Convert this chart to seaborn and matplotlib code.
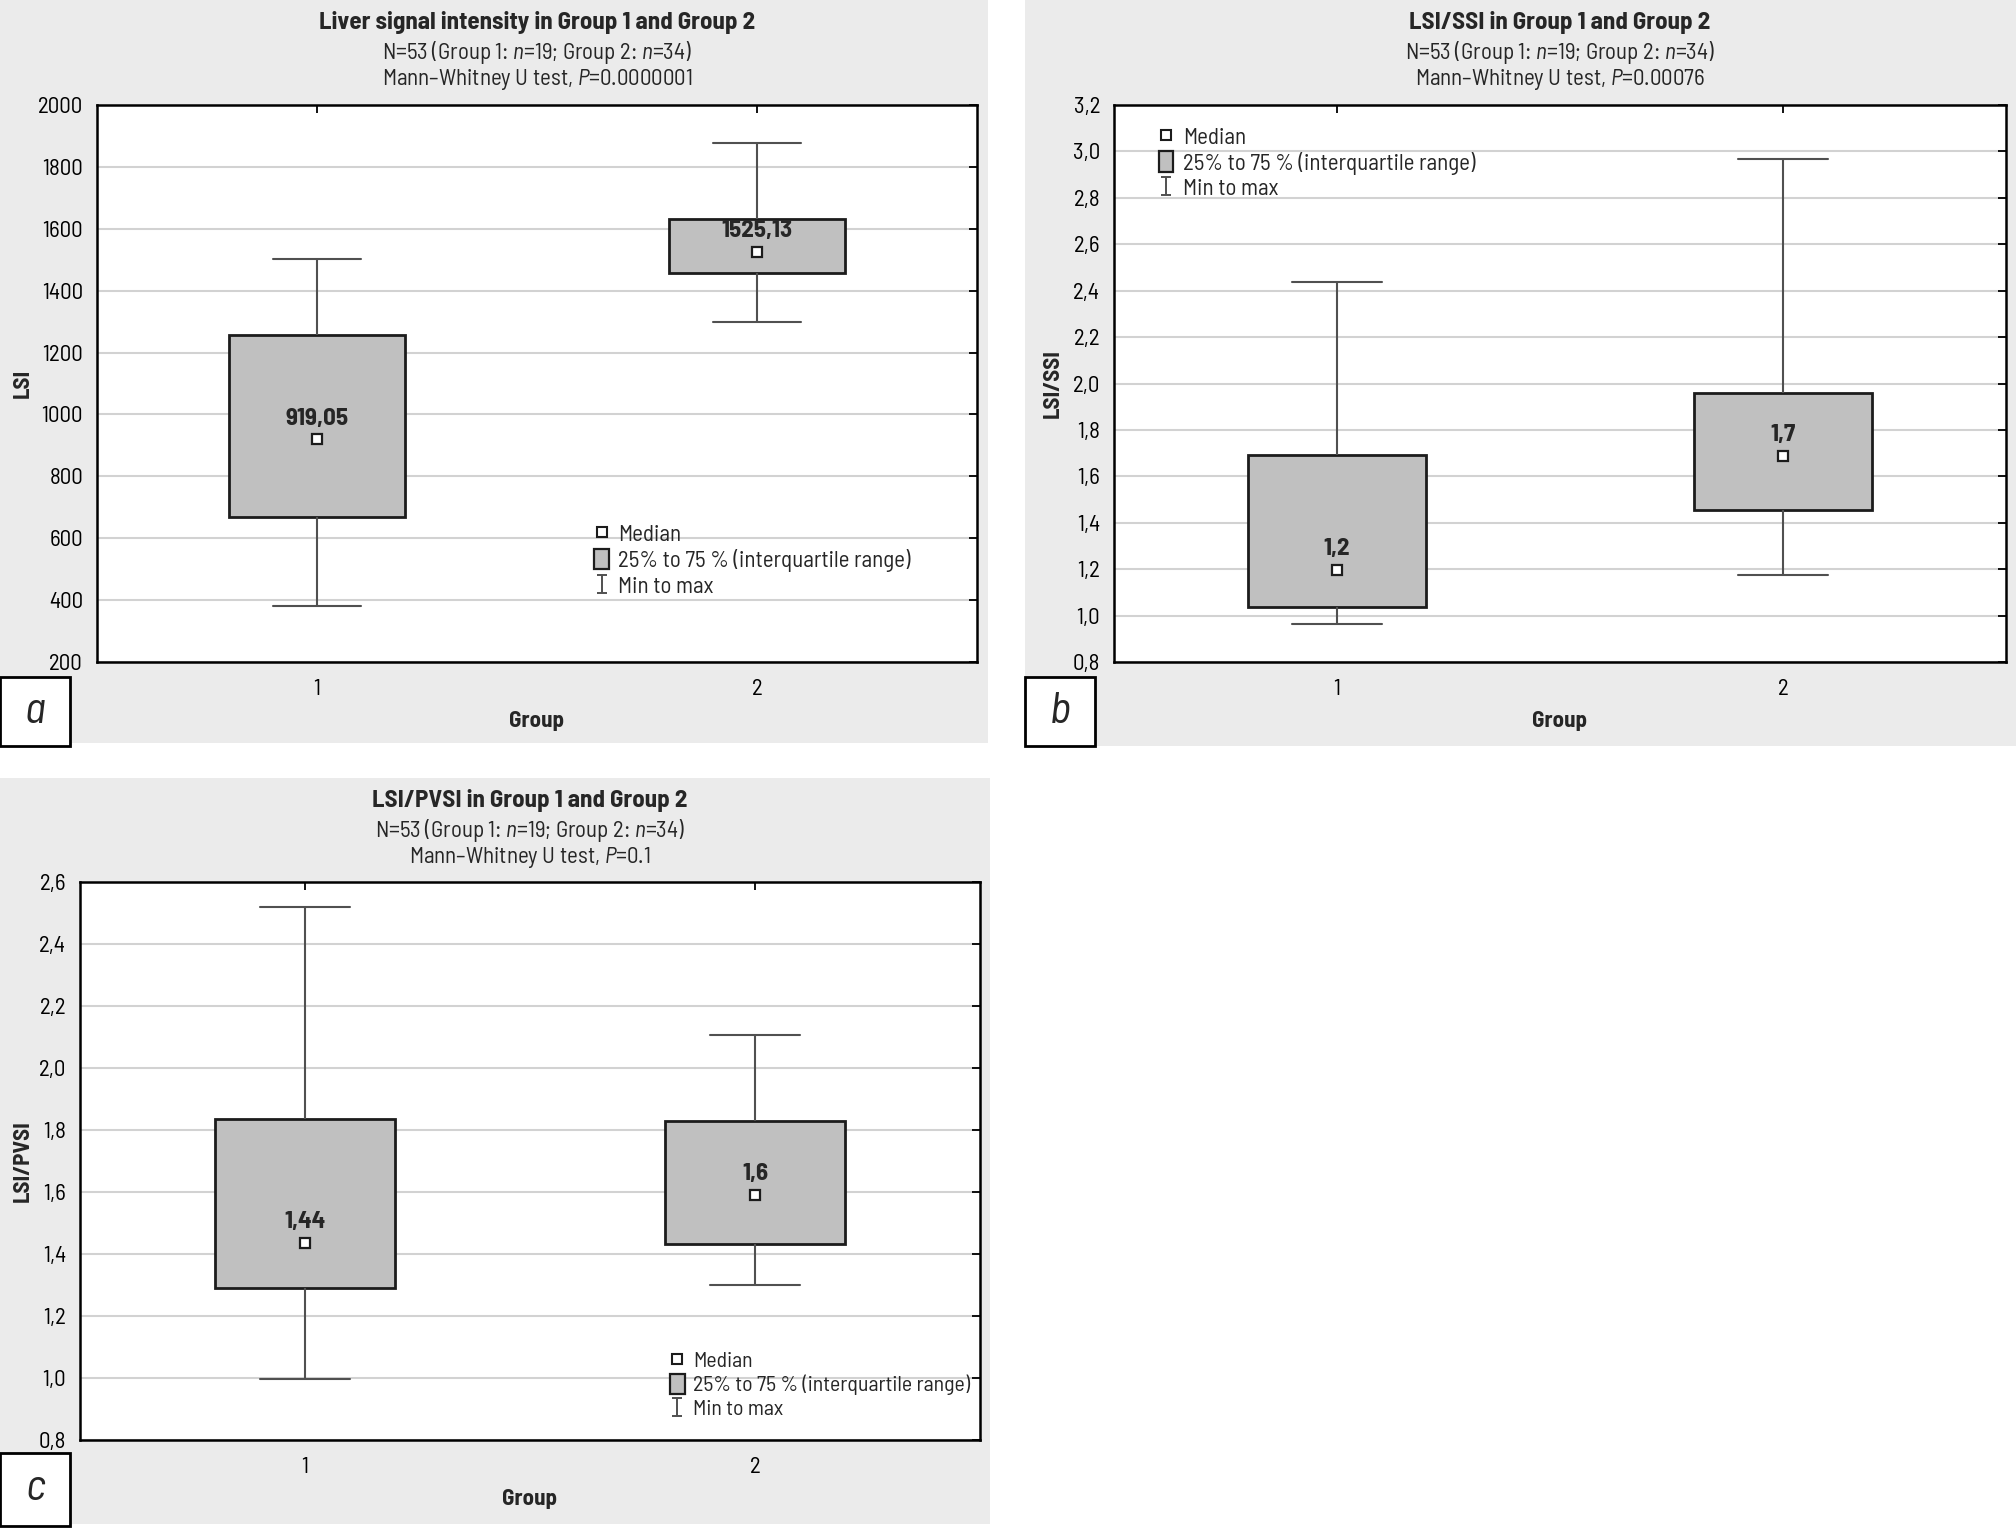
import numpy as np
import pandas as pd
import seaborn as sns
import matplotlib
matplotlib.use('Agg')
import matplotlib.pyplot as plt
from matplotlib.patches import Rectangle, Patch
from matplotlib.lines import Line2D
from matplotlib.path import Path

W, H = 2016, 1531

groups = ['1', '2']

# a - liver signal intensity
lsi_min = [380, 1300]
lsi_q1 = [668, 1456]
lsi_med = [919.05, 1525.13]
lsi_q3 = [1258, 1630]
lsi_max = [1503, 1876]
lsi_med_labels = ['919,05', '1525,13']
lsi_yticks = [200, 400, 600, 800, 1000, 1200, 1400, 1600, 1800, 2000]

# b - LSI/SSI
ssi_min = [0.962, 1.175]
ssi_q1 = [1.039, 1.456]
ssi_med = [1.198, 1.687]
ssi_q3 = [1.691, 1.957]
ssi_max = [2.436, 2.967]
ssi_med_labels = ['1,2', '1,7']
ssi_yticks = [0.8, 1.0, 1.2, 1.4, 1.6, 1.8, 2.0, 2.2, 2.4, 2.6, 2.8, 3.0, 3.2]

# c - LSI/PVSI
pvsi_min = [0.997, 1.299]
pvsi_q1 = [1.289, 1.432]
pvsi_med = [1.436, 1.590]
pvsi_q3 = [1.835, 1.829]
pvsi_max = [2.520, 2.106]
pvsi_med_labels = ['1,44', '1,6']
pvsi_yticks = [0.8, 1.0, 1.2, 1.4, 1.6, 1.8, 2.0, 2.2, 2.4, 2.6]

n_line = 'N=53 (Group 1: $\\mathit{n}$=19; Group 2: $\\mathit{n}$=34)'

sns.set_style('white')
plt.rcParams['font.family'] = ['Barlow Semi Condensed', 'DejaVu Sans']
plt.rcParams['font.stretch'] = 'semi-condensed'
plt.rcParams['mathtext.fontset'] = 'custom'
plt.rcParams['mathtext.rm'] = 'Barlow Semi Condensed'
plt.rcParams['mathtext.it'] = 'Barlow Semi Condensed:italic'

BOX_FILL = '#c0c0c0'
EDGE = '#1c1c1c'
WHISK = '#505050'
BG = '#ebebeb'
FS = 16.5

fig = plt.figure(figsize=(W / 100, H / 100), dpi=100)
fig.patch.set_facecolor('white')


def px_rect(x0, y0, x1, y1):
    return [x0 / W, 1 - y1 / H, (x1 - x0) / W, (y1 - y0) / H]


def comma(v):
    return f'{v:.1f}'.replace('.', ',')


def panel(bg, axbox, letterbox, letter, titles, title_y, mins, q1s, meds, q3s, maxs,
          med_labels, yticks, ylabel, tick_fmt, ylab_x, leg_anchor, leg_fs=FS):
    fig.patches.append(Rectangle((bg[0] / W, 1 - bg[3] / H), (bg[2] - bg[0]) / W,
                                 (bg[3] - bg[1]) / H, transform=fig.transFigure,
                                 facecolor=BG, edgecolor='none', zorder=-10))
    ax = fig.add_axes(px_rect(*axbox))
    ax.set_facecolor('white')

    # five-number summaries -> tiny table that reproduces the stats exactly
    rows = []
    for g, a, b, c, d, e in zip(groups, mins, q1s, meds, q3s, maxs):
        for v in (a, b, c, d, e):
            rows.append({'group': g, 'value': v})
    df = pd.DataFrame(rows)

    sns.boxplot(data=df, x='group', y='value', order=groups, ax=ax, whis=(0, 100),
                width=0.4, color=BOX_FILL, saturation=1, linecolor=EDGE,
                showfliers=False,
                boxprops=dict(linewidth=2.0, edgecolor=EDGE, zorder=2),
                whiskerprops=dict(color=WHISK, linewidth=1.5),
                capprops=dict(color=WHISK, linewidth=1.5),
                medianprops=dict(linewidth=0))

    pos = np.arange(len(groups))
    ax.plot(pos, meds, ls='none', marker='s', ms=7.5, mfc='white', mec=EDGE, mew=1.6, zorder=5)
    for p, m, lab in zip(pos, meds, med_labels):
        ax.annotate(lab, (p, m), xytext=(0, 15), textcoords='offset points',
                    ha='center', va='center', fontsize=FS + 1.5, fontweight='bold', zorder=6)

    ax.set_xlim(-0.5, 1.5)
    ax.set_ylim(yticks[0], yticks[-1])
    ax.set_yticks(yticks, [tick_fmt(t) for t in yticks])
    ax.yaxis.grid(True, color='#d2d2d2', linewidth=1.5)
    ax.xaxis.grid(False)
    ax.set_axisbelow(True)
    ax.tick_params(direction='in', top=True, right=True, length=6, width=1.3,
                   labelsize=FS, colors='black')
    ax.tick_params(axis='y', pad=10)
    ax.tick_params(axis='x', pad=12)
    for s in ax.spines.values():
        s.set_visible(True)
        s.set_color('black')
        s.set_linewidth(1.8)

    ax.set_xlabel('Group', fontsize=FS, fontweight='bold')
    ax.set_ylabel(ylabel, fontsize=FS, fontweight='bold')
    ax.xaxis.set_label_coords(0.5, -0.088)
    ax.yaxis.set_label_coords(ylab_x, 0.5)

    cx = (axbox[0] + axbox[2]) / 2 / W
    fig.text(cx, 1 - title_y[0] / H, titles[0], ha='center', va='center',
             fontsize=FS + 1.5, fontweight='bold')
    fig.text(cx, 1 - title_y[1] / H, titles[1], ha='center', va='center', fontsize=FS)
    fig.text(cx, 1 - title_y[2] / H, titles[2], ha='center', va='center', fontsize=FS)

    ibeam = Path([(-0.5, -1), (0.5, -1), (0, -1), (0, 1), (-0.5, 1), (0.5, 1)],
                 [Path.MOVETO, Path.LINETO, Path.MOVETO, Path.LINETO, Path.MOVETO, Path.LINETO])
    handles = [
        Line2D([], [], ls='none', marker='s', ms=7, mfc='white', mec=EDGE, mew=1.5),
        Patch(facecolor=BOX_FILL, edgecolor=EDGE, linewidth=1.6),
        Line2D([], [], ls='none', marker=ibeam, ms=13, mfc='none', mec=WHISK, mew=1.4),
    ]
    leg = ax.legend(handles, ['Median', '25% to 75 % (interquartile range)', 'Min to max'],
                    loc='upper left', bbox_to_anchor=leg_anchor, frameon=False, fontsize=leg_fs,
                    handlelength=0.65, handleheight=1.0, handletextpad=0.4,
                    labelspacing=0.12 * FS / leg_fs, borderpad=0, borderaxespad=0)
    leg.set_zorder(10)

    lx0, ly0, lx1, ly1 = letterbox
    fig.patches.append(Rectangle((lx0 / W, 1 - ly1 / H), (lx1 - lx0) / W, (ly1 - ly0) / H,
                                 transform=fig.transFigure, facecolor='white',
                                 edgecolor='black', linewidth=2.0, zorder=3))
    fig.text((lx0 + lx1) / 2 / W, 1 - (ly0 + ly1) / 2 / H, letter, ha='center', va='center',
             fontsize=32, fontstyle='italic', zorder=4)
    return ax


panel((0, 0, 988, 743), (97, 105, 977, 662), (0, 677, 70, 746), 'a',
      ['Liver signal intensity in Group 1 and Group 2', n_line,
       'Mann\u2013Whitney U test, $\\mathit{P}$=0.0000001'], (23, 52, 80),
      lsi_min, lsi_q1, lsi_med, lsi_q3, lsi_max, lsi_med_labels, lsi_yticks, 'LSI',
      lambda v: f'{v:d}', -0.073, (0.565, 0.25))

panel((1025, 0, 2016, 746), (1114, 105, 2006, 662), (1025, 677, 1095, 746), 'b',
      ['LSI/SSI in Group 1 and Group 2', n_line,
       'Mann\u2013Whitney U test, $\\mathit{P}$=0.00076'], (23, 52, 80),
      ssi_min, ssi_q1, ssi_med, ssi_q3, ssi_max, ssi_med_labels, ssi_yticks, 'LSI/SSI',
      comma, -0.058, (0.05, 0.963))

panel((0, 778, 990, 1524), (80, 882, 980, 1440), (0, 1453, 70, 1526), 'c',
      ['LSI/PVSI in Group 1 and Group 2', n_line,
       'Mann\u2013Whitney U test, $\\mathit{P}$=0.1'], (801, 830, 858),
      pvsi_min, pvsi_q1, pvsi_med, pvsi_q3, pvsi_max, pvsi_med_labels, pvsi_yticks, 'LSI/PVSI',
      comma, -0.052, (0.656, 0.161), leg_fs=FS - 0.8)

fig.savefig('out.png', dpi=100, facecolor='white')
